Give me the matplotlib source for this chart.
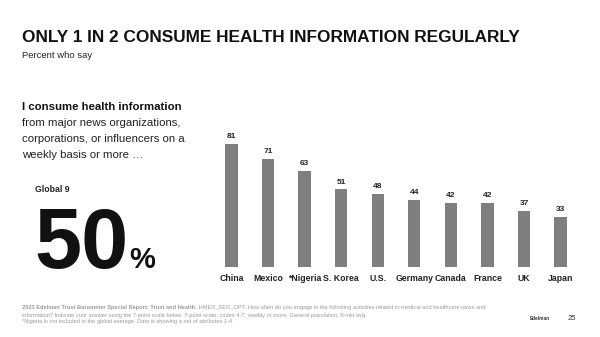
import matplotlib.pyplot as plt

# Data
countries = ['China', 'Mexico', '*Nigeria', 'S. Korea', 'U.S.', 'Germany', 'Canada', 'France', 'UK', 'Japan']
values = [81, 71, 63, 51, 48, 44, 42, 42, 37, 33]
global_avg = 50

plt.rcParams['font.family'] = ['Liberation Sans', 'DejaVu Sans']

fig = plt.figure(figsize=(6, 3.37), dpi=100)
fig.patch.set_facecolor('white')

# Bar chart
ax = fig.add_axes([215 / 600, 70 / 337, 362 / 600, 152 / 337])
x = range(len(countries))
ax.bar(x, values, width=0.34, color='#7f7f7f')
for xi, v in zip(x, values):
    ax.text(xi, v + 2.5, str(v), ha='center', va='bottom', fontsize=6, fontweight='bold', color='#222222')
ax.set_xlim(-0.45, 9.45)
ax.set_ylim(0, 100)
ax.set_xticks(list(x))
ax.set_xticklabels(countries, fontsize=6.3, fontweight='bold', color='#222222')
ax.tick_params(axis='x', length=0, pad=5)
ax.set_yticks([])
for s in ax.spines.values():
    s.set_visible(False)

# Title and subtitle
fig.text(22 / 600, 1 - 38 / 337, 'ONLY 1 IN 2 CONSUME HEALTH INFORMATION REGULARLY',
         fontsize=12.4, fontweight='bold', va='center', ha='left', color='#111111')
fig.text(22 / 600, 1 - 56 / 337, 'Percent who say', fontsize=6.8, va='center', ha='left', color='#222222')

# Left-hand statement
fig.text(22 / 600, 1 - 107 / 337, 'I consume health information', fontsize=8.2,
         fontweight='bold', va='center', ha='left', color='#111111')
lines = ['from major news organizations,', 'corporations, or influencers on a', 'weekly basis or more \u2026']
for i, line in enumerate(lines):
    fig.text(22 / 600, 1 - (123 + 16 * i) / 337, line, fontsize=8.2, va='center', ha='left', color='#222222')

fig.text(35 / 600, 1 - 189 / 337, 'Global 9', fontsize=6.3, fontweight='bold', va='center', ha='left', color='#222222')
fig.text(34 / 600, 1 - 268 / 337, str(global_avg), fontsize=61, fontweight='bold',
         va='baseline', ha='left', color='#111111')
fig.text(129 / 600, 1 - 268 / 337, '%', fontsize=21, fontweight='bold', va='baseline', ha='left', color='#111111')

# Footer
foot_col = '#9a9a9a'
fs = 4.1
t1 = fig.text(22 / 600, 1 - 308 / 337, '2023 Edelman Trust Barometer Special Report: Trust and Health.',
              fontsize=fs, fontweight='bold', va='center', ha='left', color=foot_col)
fig.canvas.draw()
fig.add_artist(plt.Annotation(
    ' HMED_SEG_OPT. How often do you engage in the following activities related to medical and healthcare news and',
    xy=(1, 0.5), xycoords=t1, va='center', ha='left', fontsize=fs, color=foot_col, annotation_clip=False))
fig.text(22 / 600, 1 - 315 / 337,
         'information? Indicate your answer using the 7-point scale below. 7-point scale; codes 4-7, weekly or more. General population, 9-mkt avg.',
         fontsize=fs, va='center', ha='left', color=foot_col)
fig.text(22 / 600, 1 - 322 / 337,
         '*Nigeria is not included in the global average. Data is showing a net of attributes 1-4.',
         fontsize=fs, va='center', ha='left', color=foot_col)

# Logo and page number
fig.text(550 / 600, 1 - 319 / 337, 'Edelman', fontsize=3.4, fontweight='bold', va='center', ha='right', color='#333333')
fig.text(568 / 600, 1 - 319 / 337, '25', fontsize=5.5, va='center', ha='left', color='#333333')

fig.savefig('out.png', dpi=100, facecolor='white')
